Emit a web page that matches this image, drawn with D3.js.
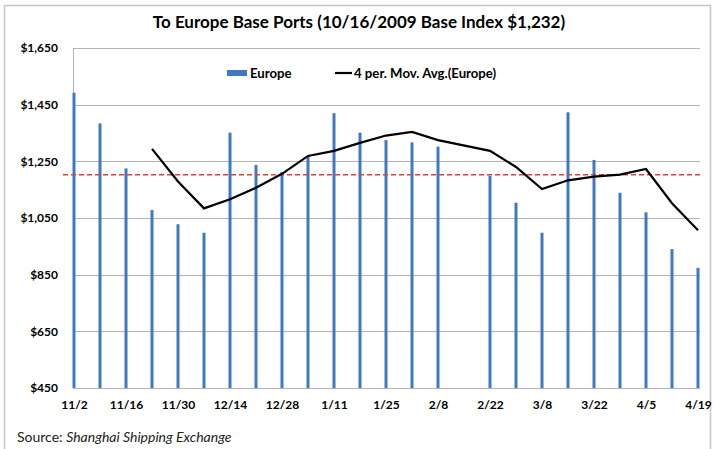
<!DOCTYPE html>
<html>
<head>
<meta charset="utf-8">
<script src="https://cdn.jsdelivr.net/npm/d3@7"></script>
<style>
  body { margin: 0; background: #fff; }
  svg { font-family: Lato, "Open Sans", sans-serif; }
</style>
</head>
<body>
<svg id="chart" width="715" height="449"></svg>
<script>
// semaines (lundi) du 2 nov. 2009 au 19 avr. 2010
const weeks = ["11/2","11/9","11/16","11/23","11/30","12/7","12/14","12/21","12/28",
  "1/4","1/11","1/18","1/25","2/1","2/8","2/15","2/22","3/1","3/8","3/15",
  "3/22","3/29","4/5","4/12","4/19"];

// indice Europe (2/15 manquant)
const europe = [1492,1384,1225,1078,1028,998,1351,1237,1212,
  1269,1420,1351,1325,1317,1302,null,1199,1104,998,1423,
  1255,1139,1070,940,874];

// moyenne mobile 4 périodes
const movAvg = [null,null,null,1294,1179,1084,1116,1157,1206,
  1269,1287,1315,1341,1354,1325,null,1287,1230,1152,1183,
  1196,1203,1223,1102,1007];

const xTickLabels = ["11/2","11/16","11/30","12/14","12/28","1/11","1/25","2/8",
  "2/22","3/8","3/22","4/5","4/19"];
const yTicks = [450,650,850,1050,1250,1450,1650];
const baseLine = 1203;

const svg = d3.select("#chart");
const mLeft = 73, mRight = 700, mTop = 48, mBottom = 388;

// cadre gris autour du graphique
svg.append("rect").attr("x", 4.5).attr("y", 5.5).attr("width", 706).attr("height", 470)
  .attr("fill", "none").attr("stroke", "#c6c6c6").attr("stroke-width", 1.5);

svg.append("text").attr("x", 359).attr("y", 28).attr("text-anchor", "middle")
  .attr("font-size", 17).attr("font-weight", "bold").attr("fill", "#000")
  .text("To Europe Base Ports (10/16/2009 Base Index $1,232)");

const x = d3.scalePoint().domain(weeks).range([mLeft + 1, mRight - 2]);
const y = d3.scaleLinear().domain([450, 1650]).range([mBottom, mTop]);

// lignes de grille
svg.append("g").selectAll("line").data(yTicks).join("line")
  .attr("x1", mLeft).attr("x2", mRight)
  .attr("y1", d => Math.round(y(d)) + 0.5).attr("y2", d => Math.round(y(d)) + 0.5)
  .attr("stroke", "#b4b4b4").attr("stroke-width", 1);

// axe Y
const yAxis = svg.append("g").attr("transform", `translate(${mLeft},0)`)
  .call(d3.axisLeft(y).tickValues(yTicks).tickSize(0).tickPadding(15)
    .tickFormat(d => "$" + d3.format(",")(d)));
yAxis.select(".domain").attr("stroke", "#b4b4b4");
yAxis.selectAll("text").attr("font-family", "Lato, sans-serif").attr("font-size", 12)
  .attr("font-weight", "bold").attr("fill", "#000");

// barres
svg.append("g").selectAll("rect").data(weeks.map((w, i) => ({w, v: europe[i]})).filter(d => d.v != null))
  .join("rect")
  .attr("x", d => x(d.w) - 1.5).attr("width", 3)
  .attr("y", d => y(d.v)).attr("height", d => y(450) - y(d.v))
  .attr("fill", "#3f78c3");

// axe X
const xAxis = svg.append("g").attr("transform", `translate(0,${mBottom})`)
  .call(d3.axisBottom(x).tickValues(xTickLabels).tickSize(0).tickPadding(12));
xAxis.select(".domain").remove();
xAxis.selectAll("text").attr("font-family", "Lato, sans-serif").attr("font-size", 12)
  .attr("font-weight", "bold").attr("fill", "#000");
svg.append("line").attr("x1", mLeft).attr("x2", mRight).attr("y1", mBottom + 0.5).attr("y2", mBottom + 0.5)
  .attr("stroke", "#b4b4b4");

// ligne de base pointillée
svg.append("line").attr("x1", 63).attr("x2", 701)
  .attr("y1", y(baseLine)).attr("y2", y(baseLine))
  .attr("stroke", "#d9443f").attr("stroke-width", 1.5).attr("stroke-dasharray", "5,3");

// moyenne mobile
const pts = weeks.map((w, i) => ({w, v: movAvg[i]})).filter(d => d.v != null);
svg.append("path").datum(pts)
  .attr("d", d3.line().x(d => x(d.w)).y(d => y(d.v)))
  .attr("fill", "none").attr("stroke", "#000").attr("stroke-width", 2.2);

// légende
const lg = svg.append("g").attr("font-size", 13.2).attr("font-weight", "bold");
lg.append("rect").attr("x", 227).attr("y", 70).attr("width", 20).attr("height", 6).attr("fill", "#3f78c3");
lg.append("text").attr("x", 250).attr("y", 78).text("Europe");
lg.append("line").attr("x1", 335).attr("x2", 352).attr("y1", 73).attr("y2", 73)
  .attr("stroke", "#000").attr("stroke-width", 2.2);
lg.append("text").attr("x", 354).attr("y", 78).text("4 per. Mov. Avg.(Europe)");

// source
const src = svg.append("text").attr("x", 17).attr("y", 442).attr("font-size", 14).attr("fill", "#222");
src.append("tspan").text("Source: ");
src.append("tspan").attr("font-style", "italic").text("Shanghai Shipping Exchange");
</script>
</body>
</html>
